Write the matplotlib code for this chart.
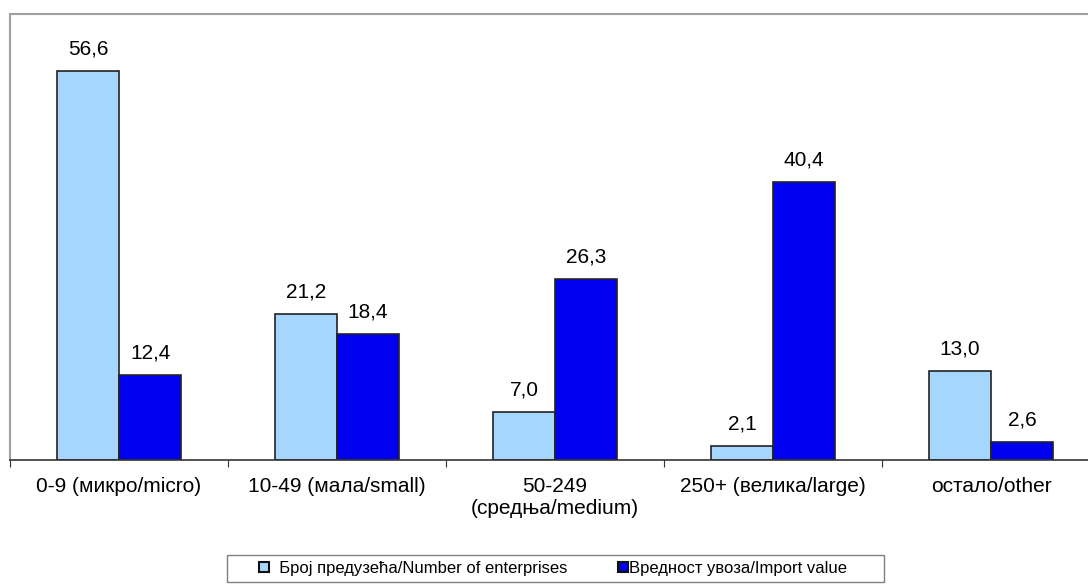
import numpy as np
import matplotlib.pyplot as plt
from matplotlib.patches import Patch, Rectangle

# data
categories = ['0-9 (микро/micro)', '10-49 (мала/small)', '50-249\n(средња/medium)',
              '250+ (велика/large)', 'остало/other']
enterprises = [56.6, 21.2, 7.0, 2.1, 13.0]
import_value = [12.4, 18.4, 26.3, 40.4, 2.6]
series_names = ['  Број предузећа/Number of enterprises', 'Вредност увоза/Import value']

plt.rcParams['font.family'] = ['Liberation Sans', 'DejaVu Sans']

light = '#A6D5FD'
dark = '#0000F0'

fig = plt.figure(figsize=(10.88, 5.87), dpi=100)
ax = fig.add_axes([10/1088, 127/587, 1090/1088, 446/587])

x = np.arange(len(categories))
w = 0.285
b1 = ax.bar(x - w/2, enterprises, w, color=light, edgecolor='#222222', linewidth=1.2)
b2 = ax.bar(x + w/2, import_value, w, color=dark, edgecolor='#222222', linewidth=1.2)

for bars, vals in [(b1, enterprises), (b2, import_value)]:
    for r, v in zip(bars, vals):
        ax.annotate(f'{v:.1f}'.replace('.', ','), (r.get_x() + r.get_width()/2, v),
                    xytext=(0, 9), textcoords='offset points',
                    ha='center', va='bottom', fontsize=15)

ax.set_xlim(-0.5, 4.5)
ax.set_ylim(0, 64.9)

ax.set_xticks(np.arange(-0.5, 5, 1))
ax.set_xticklabels([])
ax.set_xticks(x, minor=True)
ax.set_xticklabels(categories, minor=True, fontsize=15)
ax.tick_params(axis='x', which='major', length=5, color='#333333')
ax.tick_params(axis='x', which='minor', length=0, pad=12)
ax.set_yticks([])

ax.spines['left'].set_color('#A0A0A0')
ax.spines['top'].set_color('#A0A0A0')
ax.spines['left'].set_linewidth(1.5)
ax.spines['top'].set_linewidth(1.5)
ax.spines['right'].set_visible(False)
ax.spines['bottom'].set_color('#333333')
ax.spines['bottom'].set_linewidth(1.2)

# legend box drawn separately so padding matches the original
fig.patches.append(Rectangle((227/1088, 5/587), 657/1088, 27/587, transform=fig.transFigure,
                             facecolor='white', edgecolor='#808080', linewidth=1.0))
handles = [Patch(facecolor=light, edgecolor='#111111', linewidth=1.5),
           Patch(facecolor=dark, edgecolor='#111111', linewidth=1.5)]
leg = fig.legend(handles, series_names, loc='center', bbox_to_anchor=(553/1088, 18.5/587),
                 ncol=2, fontsize=12, frameon=False,
                 handlelength=0.6, handleheight=0.6, handletextpad=0.1,
                 columnspacing=3.0, borderpad=0, borderaxespad=0)

fig.savefig('out.png', dpi=100)
